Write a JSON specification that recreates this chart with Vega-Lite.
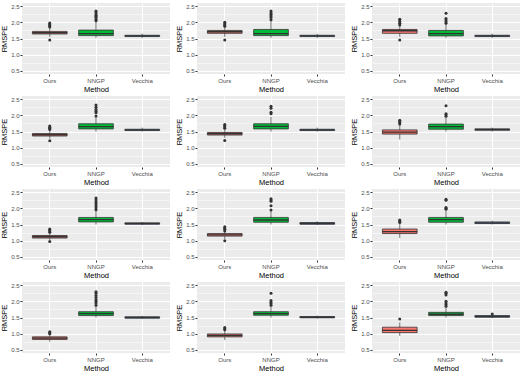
{
  "$schema": "https://vega.github.io/schema/vega-lite/v6.json",
  "padding": {"left": 0, "top": 3, "right": 0, "bottom": 0},
  "background": "white",
  "config": {
    "font": "Liberation Sans",
    "view": {"fill": "#EBEBEB", "stroke": null},
    "facet": {"spacing": {"column": 5, "row": 3}},
    "header": {"labels": false, "title": null, "labelFontSize": 0, "labelPadding": 0, "titlePadding": 0},
    "axis": {
      "domain": false,
      "gridColor": "white",
      "labelFontSize": 6,
      "labelColor": "#4D4D4D",
      "labelOverlap": false,
      "tickColor": "#333333",
      "tickSize": 2,
      "labelPadding": 1,
      "titleFontSize": 7.5,
      "titleFontWeight": "normal",
      "titleColor": "black",
      "titlePadding": 2
    }
  },
  "data": {"values": [
    {"p":1,"m":"Ours","lo":1.55,"q1":1.64,"med":1.68,"q3":1.72,"hi":1.84},
    {"p":1,"m":"NNGP","lo":1.52,"q1":1.59,"med":1.65,"q3":1.76,"hi":2.02},
    {"p":1,"m":"Vecchia","lo":1.52,"q1":1.56,"med":1.58,"q3":1.60,"hi":1.65},
    {"p":2,"m":"Ours","lo":1.55,"q1":1.66,"med":1.71,"q3":1.75,"hi":1.86},
    {"p":2,"m":"NNGP","lo":1.52,"q1":1.59,"med":1.65,"q3":1.78,"hi":2.05},
    {"p":2,"m":"Vecchia","lo":1.52,"q1":1.56,"med":1.58,"q3":1.60,"hi":1.65},
    {"p":3,"m":"Ours","lo":1.55,"q1":1.66,"med":1.74,"q3":1.78,"hi":1.90},
    {"p":3,"m":"NNGP","lo":1.52,"q1":1.58,"med":1.65,"q3":1.75,"hi":1.95},
    {"p":3,"m":"Vecchia","lo":1.52,"q1":1.56,"med":1.58,"q3":1.60,"hi":1.65},
    {"p":4,"m":"Ours","lo":1.28,"q1":1.36,"med":1.40,"q3":1.44,"hi":1.53},
    {"p":4,"m":"NNGP","lo":1.50,"q1":1.58,"med":1.65,"q3":1.74,"hi":1.95},
    {"p":4,"m":"Vecchia","lo":1.50,"q1":1.53,"med":1.55,"q3":1.57,"hi":1.62},
    {"p":5,"m":"Ours","lo":1.30,"q1":1.39,"med":1.43,"q3":1.47,"hi":1.57},
    {"p":5,"m":"NNGP","lo":1.50,"q1":1.58,"med":1.66,"q3":1.74,"hi":1.95},
    {"p":5,"m":"Vecchia","lo":1.50,"q1":1.53,"med":1.55,"q3":1.57,"hi":1.62},
    {"p":6,"m":"Ours","lo":1.25,"q1":1.42,"med":1.48,"q3":1.55,"hi":1.72},
    {"p":6,"m":"NNGP","lo":1.50,"q1":1.57,"med":1.65,"q3":1.73,"hi":1.93},
    {"p":6,"m":"Vecchia","lo":1.50,"q1":1.54,"med":1.56,"q3":1.58,"hi":1.62},
    {"p":7,"m":"Ours","lo":1.02,"q1":1.08,"med":1.12,"q3":1.16,"hi":1.24},
    {"p":7,"m":"NNGP","lo":1.50,"q1":1.58,"med":1.65,"q3":1.72,"hi":1.92},
    {"p":7,"m":"Vecchia","lo":1.48,"q1":1.51,"med":1.53,"q3":1.55,"hi":1.58},
    {"p":8,"m":"Ours","lo":1.05,"q1":1.14,"med":1.18,"q3":1.22,"hi":1.29},
    {"p":8,"m":"NNGP","lo":1.50,"q1":1.57,"med":1.64,"q3":1.72,"hi":1.92},
    {"p":8,"m":"Vecchia","lo":1.48,"q1":1.51,"med":1.53,"q3":1.56,"hi":1.60},
    {"p":9,"m":"Ours","lo":1.08,"q1":1.22,"med":1.28,"q3":1.36,"hi":1.52},
    {"p":9,"m":"NNGP","lo":1.50,"q1":1.57,"med":1.65,"q3":1.72,"hi":1.92},
    {"p":9,"m":"Vecchia","lo":1.50,"q1":1.53,"med":1.55,"q3":1.58,"hi":1.62},
    {"p":10,"m":"Ours","lo":0.75,"q1":0.82,"med":0.86,"q3":0.90,"hi":0.99},
    {"p":10,"m":"NNGP","lo":1.50,"q1":1.56,"med":1.62,"q3":1.68,"hi":1.85},
    {"p":10,"m":"Vecchia","lo":1.46,"q1":1.48,"med":1.50,"q3":1.52,"hi":1.55},
    {"p":11,"m":"Ours","lo":0.80,"q1":0.90,"med":0.94,"q3":0.99,"hi":1.10},
    {"p":11,"m":"NNGP","lo":1.50,"q1":1.57,"med":1.62,"q3":1.68,"hi":1.85},
    {"p":11,"m":"Vecchia","lo":1.47,"q1":1.49,"med":1.51,"q3":1.53,"hi":1.56},
    {"p":12,"m":"Ours","lo":0.93,"q1":1.03,"med":1.10,"q3":1.20,"hi":1.35},
    {"p":12,"m":"NNGP","lo":1.50,"q1":1.56,"med":1.60,"q3":1.66,"hi":1.82},
    {"p":12,"m":"Vecchia","lo":1.48,"q1":1.51,"med":1.53,"q3":1.56,"hi":1.60},
    {"p":1,"m":"Ours","v":1.45},{"p":1,"m":"Ours","v":1.86},{"p":1,"m":"Ours","v":1.89},{"p":1,"m":"Ours","v":1.92},{"p":1,"m":"Ours","v":1.95},{"p":1,"m":"Ours","v":1.98},
    {"p":1,"m":"NNGP","v":2.05},{"p":1,"m":"NNGP","v":2.1},{"p":1,"m":"NNGP","v":2.15},{"p":1,"m":"NNGP","v":2.18},{"p":1,"m":"NNGP","v":2.22},{"p":1,"m":"NNGP","v":2.27},{"p":1,"m":"NNGP","v":2.32},{"p":1,"m":"NNGP","v":2.35},
    {"p":2,"m":"Ours","v":1.45},{"p":2,"m":"Ours","v":1.88},{"p":2,"m":"Ours","v":1.92},{"p":2,"m":"Ours","v":1.96},{"p":2,"m":"Ours","v":2.0},
    {"p":2,"m":"NNGP","v":2.08},{"p":2,"m":"NNGP","v":2.15},{"p":2,"m":"NNGP","v":2.2},{"p":2,"m":"NNGP","v":2.25},{"p":2,"m":"NNGP","v":2.3},{"p":2,"m":"NNGP","v":2.35},
    {"p":3,"m":"Ours","v":1.45},{"p":3,"m":"Ours","v":1.92},{"p":3,"m":"Ours","v":1.97},{"p":3,"m":"Ours","v":2.02},{"p":3,"m":"Ours","v":2.07},{"p":3,"m":"Ours","v":2.1},
    {"p":3,"m":"NNGP","v":1.97},{"p":3,"m":"NNGP","v":2.02},{"p":3,"m":"NNGP","v":2.07},{"p":3,"m":"NNGP","v":2.12},{"p":3,"m":"NNGP","v":2.28},
    {"p":4,"m":"Ours","v":1.21},{"p":4,"m":"Ours","v":1.56},{"p":4,"m":"Ours","v":1.6},{"p":4,"m":"Ours","v":1.63},{"p":4,"m":"Ours","v":1.67},
    {"p":4,"m":"NNGP","v":1.98},{"p":4,"m":"NNGP","v":2.08},{"p":4,"m":"NNGP","v":2.13},{"p":4,"m":"NNGP","v":2.18},{"p":4,"m":"NNGP","v":2.25},{"p":4,"m":"NNGP","v":2.32},
    {"p":5,"m":"Ours","v":1.22},{"p":5,"m":"Ours","v":1.6},{"p":5,"m":"Ours","v":1.64},{"p":5,"m":"Ours","v":1.68},{"p":5,"m":"Ours","v":1.72},
    {"p":5,"m":"NNGP","v":2.05},{"p":5,"m":"NNGP","v":2.1},{"p":5,"m":"NNGP","v":2.22},{"p":5,"m":"NNGP","v":2.28},
    {"p":6,"m":"Ours","v":1.73},{"p":6,"m":"Ours","v":1.77},{"p":6,"m":"Ours","v":1.81},{"p":6,"m":"Ours","v":1.85},
    {"p":6,"m":"NNGP","v":1.97},{"p":6,"m":"NNGP","v":2.02},{"p":6,"m":"NNGP","v":2.05},{"p":6,"m":"NNGP","v":2.3},
    {"p":7,"m":"Ours","v":0.97},{"p":7,"m":"Ours","v":1.26},{"p":7,"m":"Ours","v":1.3},{"p":7,"m":"Ours","v":1.33},{"p":7,"m":"Ours","v":1.36},
    {"p":7,"m":"NNGP","v":1.96},{"p":7,"m":"NNGP","v":2.02},{"p":7,"m":"NNGP","v":2.08},{"p":7,"m":"NNGP","v":2.14},{"p":7,"m":"NNGP","v":2.2},{"p":7,"m":"NNGP","v":2.26},{"p":7,"m":"NNGP","v":2.32},
    {"p":8,"m":"Ours","v":1.0},{"p":8,"m":"Ours","v":1.3},{"p":8,"m":"Ours","v":1.35},{"p":8,"m":"Ours","v":1.39},{"p":8,"m":"Ours","v":1.43},
    {"p":8,"m":"NNGP","v":1.95},{"p":8,"m":"NNGP","v":2.08},{"p":8,"m":"NNGP","v":2.22},{"p":8,"m":"NNGP","v":2.26},{"p":8,"m":"NNGP","v":2.3},
    {"p":9,"m":"Ours","v":1.56},{"p":9,"m":"Ours","v":1.6},{"p":9,"m":"Ours","v":1.64},
    {"p":9,"m":"NNGP","v":1.97},{"p":9,"m":"NNGP","v":2.0},{"p":9,"m":"NNGP","v":2.03},{"p":9,"m":"NNGP","v":2.25},{"p":9,"m":"NNGP","v":2.28},
    {"p":10,"m":"Ours","v":1.0},{"p":10,"m":"Ours","v":1.03},{"p":10,"m":"Ours","v":1.06},
    {"p":10,"m":"NNGP","v":1.88},{"p":10,"m":"NNGP","v":1.95},{"p":10,"m":"NNGP","v":2.0},{"p":10,"m":"NNGP","v":2.05},{"p":10,"m":"NNGP","v":2.12},{"p":10,"m":"NNGP","v":2.18},{"p":10,"m":"NNGP","v":2.25},{"p":10,"m":"NNGP","v":2.3},
    {"p":11,"m":"Ours","v":1.12},{"p":11,"m":"Ours","v":1.15},{"p":11,"m":"Ours","v":1.19},
    {"p":11,"m":"NNGP","v":1.88},{"p":11,"m":"NNGP","v":1.93},{"p":11,"m":"NNGP","v":1.98},{"p":11,"m":"NNGP","v":2.03},{"p":11,"m":"NNGP","v":2.25},
    {"p":12,"m":"Ours","v":1.45},
    {"p":12,"m":"NNGP","v":1.85},{"p":12,"m":"NNGP","v":1.9},{"p":12,"m":"NNGP","v":1.95},{"p":12,"m":"NNGP","v":2.0},{"p":12,"m":"NNGP","v":2.2},{"p":12,"m":"NNGP","v":2.25},{"p":12,"m":"NNGP","v":2.28},
    {"p":12,"m":"Vecchia","v":1.61}
  ]},
  "facet": {"field": "p", "type": "ordinal", "header": null},
  "columns": 3,
  "resolve": {"axis": {"x": "independent", "y": "independent"}},
  "spec": {
    "width": 148,
    "height": 71,
    "encoding": {
      "x": {
        "field": "m", "type": "nominal",
        "sort": ["Ours", "NNGP", "Vecchia"],
        "scale": {"paddingInner": 0, "paddingOuter": 0.1},
        "axis": {"title": "Method", "labelAngle": 0, "grid": true, "bandPosition": 0.5, "gridWidth": 1}
      }
    },
    "resolve": {"scale": {"y": "shared"}, "axis": {"y": "independent"}},
    "layer": [
      {
        "transform": [{"filter": "isValid(datum.med)"}],
        "mark": {"type": "rule", "color": "#333333", "strokeWidth": 0.7},
        "encoding": {
          "y": {
            "field": "lo", "type": "quantitative",
            "scale": {"domain": [0.4, 2.6], "nice": false, "zero": false},
            "axis": {
              "orient": "left",
              "title": null,
              "values": [0.75, 1.25, 1.75, 2.25],
              "labels": false,
              "ticks": false,
              "grid": true,
              "gridWidth": 0.5
            }
          },
          "y2": {"field": "hi"}
        }
      },
      {
        "transform": [{"filter": "isValid(datum.med)"}],
        "mark": {"type": "bar", "stroke": "#333333", "strokeWidth": 0.8, "width": {"band": 0.75}},
        "encoding": {
          "y": {
            "field": "q1", "type": "quantitative",
            "axis": {
              "orient": "left",
              "title": "RMSPE",
              "values": [0.5, 1, 1.5, 2, 2.5],
              "format": ".1f",
              "grid": true,
              "gridWidth": 1
            }
          },
          "y2": {"field": "q3"},
          "fill": {
            "field": "m", "type": "nominal",
            "scale": {"domain": ["Ours", "NNGP", "Vecchia"], "range": ["#F8766D", "#00BA38", "#619CFF"]},
            "legend": null
          }
        }
      },
      {
        "transform": [{"filter": "isValid(datum.med)"}],
        "mark": {"type": "tick", "color": "#333333", "thickness": 1.4, "orient": "horizontal", "opacity": 1, "size": 34.7},
        "encoding": {
          "y": {"field": "med", "type": "quantitative", "axis": null}
        }
      },
      {
        "transform": [{"filter": "isValid(datum.v)"}],
        "mark": {"type": "point", "filled": true, "color": "#333333", "size": 9, "opacity": 1},
        "encoding": {
          "y": {"field": "v", "type": "quantitative", "axis": null}
        }
      }
    ]
  }
}
